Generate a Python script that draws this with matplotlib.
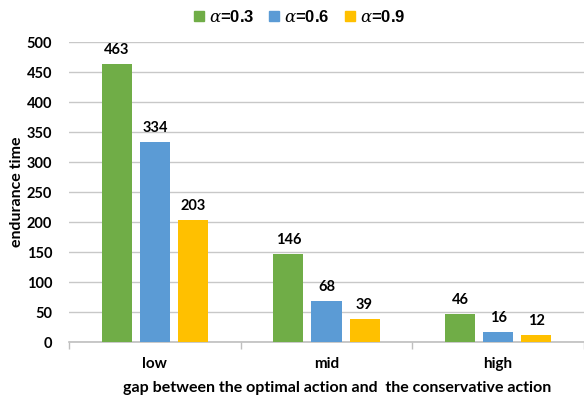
import matplotlib
matplotlib.use("Agg")
import matplotlib.pyplot as plt
import numpy as np
from matplotlib.lines import Line2D

categories = ["low", "mid", "high"]
series_labels = [r"$\alpha$=0.3", r"$\alpha$=0.6", r"$\alpha$=0.9"]
vals_03 = [463, 146, 46]
vals_06 = [334, 68, 16]
vals_09 = [203, 39, 12]
colors = ["#70AD47", "#5B9BD5", "#FFC000"]
yticks = [0, 50, 100, 150, 200, 250, 300, 350, 400, 450, 500]

plt.rcParams['font.family'] = ['Lato', 'DejaVu Sans']
plt.rcParams['mathtext.fontset'] = 'dejavuserif'

fig = plt.figure(figsize=(5.84, 4.0), dpi=100)
ax = fig.add_axes([69/584, 58/400, 515/584, 300/400])

x = np.arange(len(categories))
w = 0.175
step = 0.2216
for i, (vals, c, lab) in enumerate(zip([vals_03, vals_06, vals_09], colors, series_labels)):
    pos = x + (i - 1) * step
    bars = ax.bar(pos, vals, width=w, color=c, label=lab, zorder=3)
    for b, v in zip(bars, vals):
        ax.annotate(str(v), (b.get_x() + b.get_width()/2, v), xytext=(0, 5),
                    textcoords='offset points', ha='center', va='bottom',
                    fontsize=10.5, fontweight='bold', color='black')

ax.set_xlim(-0.5, 2.5)
ax.set_ylim(0, 500)
ax.set_yticks(yticks)
ax.set_yticklabels([str(t) for t in yticks], fontsize=10.5, fontweight='bold')
ax.grid(axis='y', color='#C8C8C8', linewidth=1, zorder=0)
ax.set_axisbelow(True)
for s in ['top', 'right', 'left']:
    ax.spines[s].set_visible(False)
ax.spines['bottom'].set_color('#BFBFBF')
ax.spines['bottom'].set_linewidth(1.2)
ax.tick_params(axis='y', length=0, pad=12)
ax.set_xticks([-0.5, 0.5, 1.5, 2.5])
ax.set_xticklabels([])
ax.tick_params(axis='x', which='major', length=5, color='#BFBFBF', width=1)
ax.set_xticks(x, minor=True)
ax.set_xticklabels(categories, minor=True, fontsize=11, fontweight='bold')
ax.tick_params(axis='x', which='minor', length=0, pad=11)

ax.set_ylabel("endurance time", fontsize=11.5, fontweight='bold')
ax.yaxis.set_label_coords(-0.087, 0.5)
ax.set_xlabel("gap between the optimal action and  the conservative action", fontsize=11.5,
              fontweight='bold')
ax.xaxis.set_label_coords(0.52, -0.13)

handles = [Line2D([0], [0], marker='s', linestyle='none', markerfacecolor=c,
                  markeredgecolor=c, markersize=7) for c in colors]
leg = fig.legend(handles, series_labels, loc='center', bbox_to_anchor=(0.51, 0.958),
                 ncol=3, frameon=False, prop={'family': 'Liberation Sans', 'weight': 'bold', 'size': 12},
                 handletextpad=0.1, columnspacing=0.7, handlelength=1.0)

fig.savefig("out.png", dpi=100)
